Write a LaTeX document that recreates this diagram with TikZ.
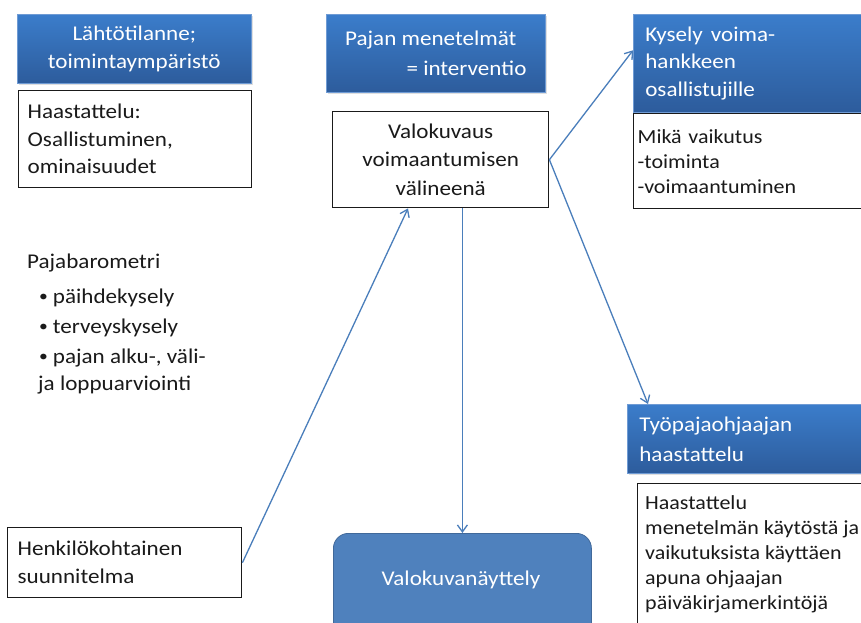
\documentclass[tikz,border=0pt]{standalone}
\usepackage{fontspec}
\setmainfont{Carlito}[FakeStretch=1.1]
\usetikzlibrary{arrows.meta,shadows}

\definecolor{hdrtop}{HTML}{3B7DCB}
\definecolor{hdrbot}{HTML}{2D5C9C}
\definecolor{hdredge}{HTML}{6F9BD4}
\definecolor{linkblue}{HTML}{4A7EBB}
\definecolor{showfill}{HTML}{4F81BD}
\definecolor{showedge}{HTML}{41699A}
\definecolor{ink}{HTML}{1A1A1A}

\newcommand{\dotitem}{\raisebox{1.5pt}{\fontsize{16}{16}\selectfont\textbullet}\hspace{5pt}}

\tikzset{
  hdr/.style={anchor=north west, top color=hdrtop, bottom color=hdrbot,
    draw=hdredge, line width=0.6pt, text=white, inner sep=0pt,
    font=\fontsize{21}{28}\selectfont,
    drop shadow={shadow xshift=1.5pt, shadow yshift=-2pt, opacity=0.25}},
  notebox/.style={anchor=north west, draw=ink, line width=1.4pt, fill=white,
    text=ink, inner sep=0pt},
  smalltxt/.style={font=\fontsize{20}{25}\selectfont},
  plain/.style={text=ink, inner sep=0pt, font=\fontsize{21}{28}\selectfont},
  link/.style={draw=linkblue, line width=1.3pt,
    -{Straight Barb[length=7pt, width=10pt, line width=1.3pt]}},
  showbox/.style={anchor=north west, fill=showfill, draw=showedge,
    line width=0.8pt, rounded corners=15pt, text=white,
    font=\fontsize{21}{28}\selectfont}
}

\begin{document}
\begin{tikzpicture}[x=1pt, y=-1pt]
\clip (0,0) rectangle (861,623);
\fill[white] (0,0) rectangle (861,623);

% column headers
\node[hdr, minimum width=234, minimum height=69, align=center] (start)
  at (17,14) {Lähtötilanne;\\toimintaympäristö};
\node[hdr, minimum width=219, minimum height=78, align=right,
  font=\fontsize{21}{30}\selectfont] (method)
  at (326,14) {Pajan menetelmät\hspace*{10pt}\\= interventio};
\node[hdr, minimum width=232, minimum height=98, align=left,
  text width=220, inner xsep=12pt, font=\fontsize{21}{27.5}\selectfont] (survey)
  at (633,14) {Kysely\hspace{8pt}voima-\\hankkeen\\osallistujille};
\node[hdr, minimum width=238, minimum height=69, align=left,
  text width=226, inner xsep=12pt, font=\fontsize{21}{30}\selectfont] (coach)
  at (627,404) {Työpajaohjaajan\\haastattelu};

% white note boxes
\node[notebox, minimum width=233, minimum height=97, align=left,
  text width=215, inner xsep=9pt, font=\fontsize{21}{27.5}\selectfont] (interview)
  at (18,90) {Haastattelu:\\Osallistuminen,\\ominaisuudet};
\node[notebox, minimum width=216, minimum height=96, align=center,
  font=\fontsize{21}{28.5}\selectfont] (photo)
  at (332,111) {Valokuvaus\\voimaantumisen\\välineenä};
\node[notebox, smalltxt, minimum width=235, minimum height=95, align=left,
  text width=227, inner xsep=4pt] (effect)
  at (633,113) {Mikä vaikutus\\-toiminta\\-voimaantuminen};
\node[notebox, minimum width=232, minimum height=150] (diary)
  at (637,483) {};
\node[text=ink, anchor=north west, align=left, inner sep=0pt,
  font=\fontsize{20}{25}\selectfont] (diarytxt)
  at (645,495) {Haastattelu\\menetelmän käytöstä ja\\vaikutuksista käyttäen\\apuna ohjaajan\\päiväkirjamerkintöjä};
\node[notebox, minimum width=234, minimum height=70, align=left,
  text width=214, inner xsep=10pt, font=\fontsize{21}{28}\selectfont] (plan)
  at (7,527) {Henkilökohtainen\\suunnitelma};

% barometer list
\node[plain, anchor=base west] (baro) at (27,268) {Pajabarometri};
\node[plain, anchor=base west] (item1) at (39,303) {\dotitem päihdekysely};
\node[plain, anchor=base west] (item2) at (39,333) {\dotitem terveyskysely};
\node[plain, anchor=base west] (item3) at (39,363) {\dotitem pajan alku-, väli-};
\node[plain, anchor=base west] (item4) at (38,390) {ja loppuarviointi};

% exhibition
\node[showbox, minimum width=258, minimum height=110] (show) at (333,533) {};
\node[text=white, font=\fontsize{21}{28}\selectfont, inner sep=0pt] (showtxt)
  at (461,580) {Valokuvanäyttely};

% connectors
\draw[link] (plan.east) -- ([xshift=76pt]photo.south west);
\draw[link] (show.north |- photo.south) -- (show.north);
\draw[link] (photo.east) -- ([yshift=13pt]survey.west);
\draw[link] (photo.east) -- ([xshift=21pt]coach.north west);
\end{tikzpicture}
\end{document}
